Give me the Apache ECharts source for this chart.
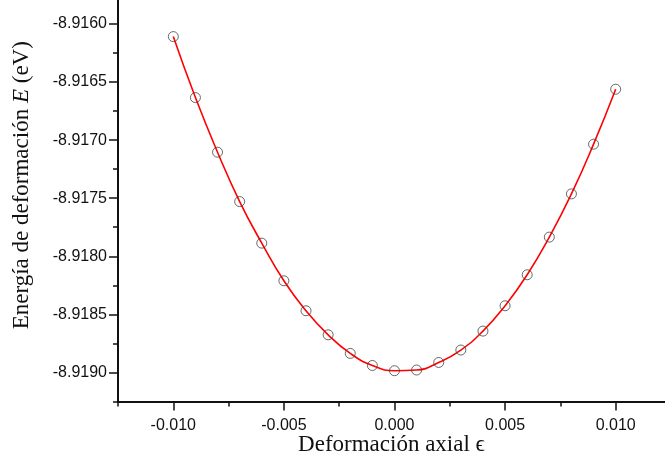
<!DOCTYPE html>
<html>
<head>
<meta charset="utf-8">
<script src="https://cdn.jsdelivr.net/npm/echarts@6/dist/echarts.min.js"></script>
<style>
html,body{margin:0;padding:0;background:#fff;}
#chart{width:665px;height:468px;}
</style>
</head>
<body>
<div id="chart"></div>
<script>
// strain values (axial deformation)
const strains = [-0.010,-0.009,-0.008,-0.007,-0.006,-0.005,-0.004,-0.003,-0.002,-0.001,0.000,
                 0.001,0.002,0.003,0.004,0.005,0.006,0.007,0.008,0.009,0.010];
// deformation energies (eV)
const energies = [-8.916109,-8.916634,-8.917104,-8.917529,-8.917887,-8.918211,-8.918469,-8.918676,
                  -8.918836,-8.918940,-8.918985,-8.918979,-8.918914,-8.918807,-8.918644,-8.918426,
                  -8.918159,-8.917835,-8.917463,-8.917035,-8.916562];
// tick labels / positions
const xMajorTicks = [-0.010,-0.005,0.000,0.005,0.010];
const xMinorTicks = [-0.0125,-0.0075,-0.0025,0.0025,0.0075];
const yMajorTicks = [-8.9190,-8.9185,-8.9180,-8.9175,-8.9170,-8.9165,-8.9160];
const yMinorTicks = [-8.91925,-8.91875,-8.91825,-8.91775,-8.91725,-8.91675,-8.91625];

const xRange = [-0.0125, 0.01223];
const yRange = [-8.91925, -8.915794];

const points = strains.map((x,i)=>[x, energies[i]]);
const axisColor = '#111';

const chart = echarts.init(document.getElementById('chart'), null, {renderer:'canvas'});
chart.setOption({
  animation: false,
  backgroundColor: '#fff',
  grid: {left: 118, top: 0, width: 547, height: 401.5, containLabel: false, outerBoundsMode: 'none'},
  xAxis: [
    {
      type: 'value', min: xRange[0], max: xRange[1], position: 'bottom',
      axisLine: {show: true, onZero: false, lineStyle: {color: axisColor, width: 2}},
      axisTick: {show: true, inside: false, length: 9, customValues: xMajorTicks, lineStyle: {color: axisColor, width: 1.5}},
      axisLabel: {show: true, customValues: xMajorTicks, margin: 16, fontFamily: 'Liberation Sans', fontSize: 16, color: '#111',
                  formatter: v => v.toFixed(3)},
      splitLine: {show: false},
      name: 'Deformación axial ϵ', nameLocation: 'middle', nameGap: 32, nameMoveOverlap: false,
      nameTextStyle: {fontFamily: 'Liberation Serif', fontSize: 23, color: '#111'}
    },
    {
      type: 'value', min: xRange[0], max: xRange[1], position: 'bottom', offset: 0,
      axisLine: {show: false, onZero: false},
      axisTick: {show: true, inside: false, length: 5, customValues: xMinorTicks, lineStyle: {color: axisColor, width: 1.5}},
      axisLabel: {show: false},
      splitLine: {show: false}
    }
  ],
  yAxis: [
    {
      type: 'value', min: yRange[0], max: yRange[1], position: 'left',
      axisLine: {show: true, onZero: false, lineStyle: {color: axisColor, width: 2}},
      axisTick: {show: true, inside: false, length: 9, customValues: yMajorTicks, lineStyle: {color: axisColor, width: 1.5}},
      axisLabel: {show: true, customValues: yMajorTicks, margin: 11, fontFamily: 'Liberation Sans', fontSize: 16, color: '#111',
                  formatter: v => v.toFixed(4)},
      splitLine: {show: false},
      name: 'Energía de deformación {i|E} (eV)', nameLocation: 'middle', nameGap: 85, nameMoveOverlap: false,
      nameTextStyle: {fontFamily: 'Liberation Serif', fontSize: 23, color: '#111', padding: [0,0,0,31],
        rich: {i: {fontFamily: 'Liberation Serif', fontSize: 23, fontStyle: 'italic', color: '#111'}}}
    },
    {
      type: 'value', min: yRange[0], max: yRange[1], position: 'left', offset: 0,
      axisLine: {show: false, onZero: false},
      axisTick: {show: true, inside: false, length: 5, customValues: yMinorTicks, lineStyle: {color: axisColor, width: 1.5}},
      axisLabel: {show: false},
      splitLine: {show: false}
    }
  ],
  series: [
    {
      type: 'line', data: points, smooth: 0.5, showSymbol: false, symbol: 'none',
      lineStyle: {color: '#ff0000', width: 1.6}, z: 2
    },
    {
      type: 'scatter', data: points, symbol: 'circle', symbolSize: 10,
      itemStyle: {color: 'rgba(0,0,0,0)', borderColor: '#444', borderWidth: 1}, z: 3
    }
  ]
});
</script>
</body>
</html>
